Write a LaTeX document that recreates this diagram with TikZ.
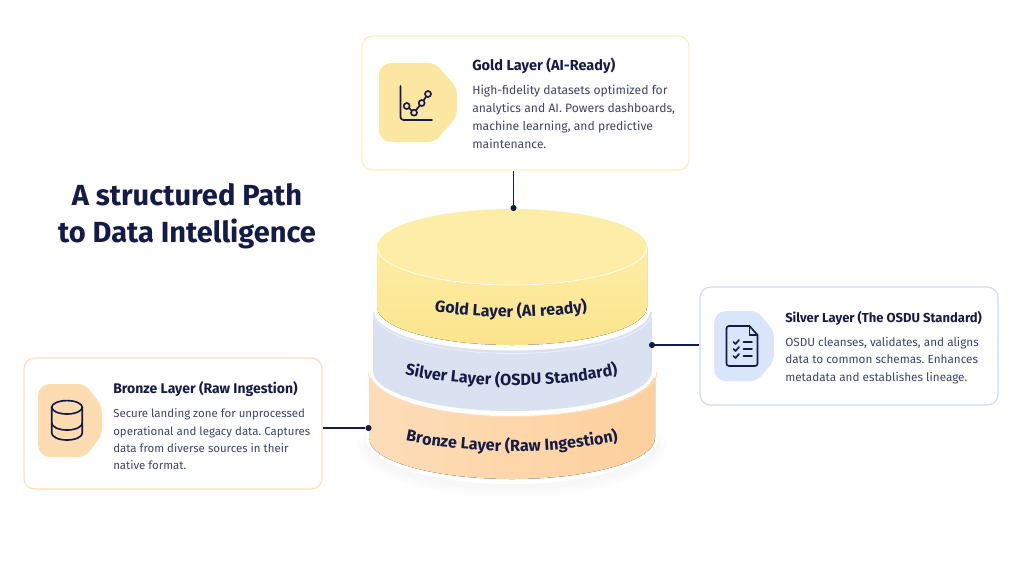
\documentclass[tikz,border=0pt]{standalone}
\usepackage{fontspec}
\setmainfont{Fira Sans}
\frenchspacing
\usetikzlibrary{decorations.text}
\definecolor{ink}{HTML}{141B47}
\definecolor{bodyink}{HTML}{3F4468}
\definecolor{goldtop}{HTML}{FDEDA6}
\definecolor{goldside}{HTML}{FBE48C}
\definecolor{goldedge}{HTML}{FCF0BC}
\definecolor{goldicon}{HTML}{FBE6A2}
\definecolor{silverside}{HTML}{DAE2F1}
\definecolor{silverlight}{HTML}{E9EEF7}
\definecolor{silveredge}{HTML}{CDDBF6}
\definecolor{silvericon}{HTML}{D9E5FB}
\definecolor{bronzeside}{HTML}{FDD09C}
\definecolor{bronzelight}{HTML}{FDDDB9}
\definecolor{bronzeedge}{HTML}{FCE0BC}
\definecolor{bronzeicon}{HTML}{FDDCB2}
\newcommand{\drumfont}{\fontsize{12.1}{14}\selectfont\bfseries\color{ink}}
\tikzset{
  card/.style={draw=#1, line width=0.9pt, fill=white, rounded corners=8pt, inner sep=0pt},
  cardtitle/.style={anchor=west, inner sep=0pt, text=ink, font=\fontsize{#1}{12}\selectfont\bfseries},
  cardbody/.style={anchor=north west, inner sep=0pt, align=left, text=bodyink},
  headline/.style={anchor=center, inner sep=0pt, text=ink, font=\fontsize{21.8}{27.75}\selectfont\bfseries, align=center},
  link/.style={draw=ink, line width=1.4pt},
  linkdot/.style={circle, fill=ink, inner sep=0pt, minimum size=4.6pt},
  glyph/.style={draw=ink, line width=1.25pt, line cap=round, line join=round},
  curved label/.style={decorate, decoration={text along path, text align=center, text={#1}}}
}
\begin{document}
\begin{tikzpicture}[x=0.75pt,y=-0.75pt]
\useasboundingbox (0,0) rectangle (1024,576);
\fill[white] (0,0) rectangle (1024,576);

% Soft shadow under the stack
\foreach \g in {12,9,6,3}{
  \fill[black,opacity=0.009] (512,446) ellipse[x radius=143+\g,y radius=40+\g];
}

% Bronze drum with its white rim
\fill[white] (366,372) -- (366,438) arc[start angle=180,end angle=0,x radius=146,y radius=46] -- (658,372) -- cycle;
\fill[left color=bronzelight,right color=bronzeside] (369,378) -- (369,438) arc[start angle=180,end angle=0,x radius=143,y radius=41] -- (655,378) -- cycle;

% Silver drum with its white rim
\fill[white] (370,306) -- (370,371) arc[start angle=180,end angle=0,x radius=142.5,y radius=45.5] -- (655,306) -- cycle;
\draw[bronzelight,line width=0.7pt] (368,372) arc[start angle=180,end angle=0,x radius=144.5,y radius=44.5];
\fill[white] (371,312) -- (371,371) arc[start angle=180,end angle=0,x radius=141.5,y radius=43.5] -- (654,312) -- cycle;
\fill[silverside] (373,312) -- (373,371) arc[start angle=180,end angle=0,x radius=139.5,y radius=40] -- (652,312) -- cycle;

% Gold drum with its white rim
\fill[white] (374,300) -- (374,311) arc[start angle=180,end angle=0,x radius=138,y radius=39.5] -- (650,300) -- cycle;
\draw[silverlight,line width=0.7pt] (373,312) arc[start angle=180,end angle=0,x radius=139.5,y radius=41.5];
\fill[top color=goldtop,bottom color=goldside] (377,247) -- (377,307) arc[start angle=180,end angle=0,x radius=135,y radius=38] -- (647,247) -- cycle;
\fill[goldtop] (512,247) ellipse[x radius=135,y radius=38];
\draw[white,line width=0.5pt] (377,247) arc[start angle=180,end angle=0,x radius=135,y radius=38];

% Lettering that follows the curve of each drum
\path[curved label={|\drumfont|Gold Layer (AI ready)}]
  (432,311) .. controls (480,319) and (540,319) .. (590,311);
\path[curved label={|\drumfont|Silver Layer (OSDU Standard)}]
  (403,374) .. controls (470,389) and (555,389) .. (620,374);
\path[curved label={|\drumfont|Bronze Layer (Raw Ingestion)}]
  (401,440) .. controls (470,455) and (555,455) .. (623,440);

% Headline
\node[headline] (heading) at (187,216) {A structured Path\\to Data Intelligence};

% Cards
\node[card=goldedge, minimum width=245.25pt, minimum height=100.5pt] (goldcard) at (525.5,103) {};
\node[card=silveredge, minimum width=223.5pt, minimum height=88.5pt] (silvercard) at (849,346) {};
\node[card=bronzeedge, minimum width=223.5pt, minimum height=98.25pt] (bronzecard) at (173,423.5) {};

% Connectors
\node[linkdot] (golddot) at (513.5,208) {};
\node[linkdot] (silverdot) at (652,345) {};
\node[linkdot] (bronzedot) at (368.5,428) {};
\draw[link] (goldcard.south -| golddot) -- (golddot);
\draw[link] (silvercard.west |- silverdot) -- (silverdot);
\draw[link] (bronzecard.east |- bronzedot) -- (bronzedot);

% Icon tiles
\fill[goldicon, rounded corners=9pt] (379,103) -- (379,63) [rounded corners=5pt] -- (435,63) -- (457,88) -- (457,116) -- (435,142) [rounded corners=9pt] -- (379,142) -- cycle;
\fill[silvericon, rounded corners=9pt] (714,346) -- (714,311) [rounded corners=5pt] -- (757,311) -- (774,331) -- (774,361) -- (757,381) [rounded corners=9pt] -- (714,381) -- cycle;
\fill[bronzeicon, rounded corners=9pt] (38,420) -- (38,384) [rounded corners=5pt] -- (85,384) -- (102,406) -- (102,435) -- (85,457) [rounded corners=9pt] -- (38,457) -- cycle;

% Chart glyph
\draw[glyph] (400.5,86) -- (400.5,117) arc[start angle=180,end angle=90,radius=3] -- (432,120);
\draw[glyph] (406.7,106) -- (414,112.7) -- (421.7,103) -- (428,94);
\foreach \p in {(406.7,106),(414,112.7),(421.7,103),(428,94)}{
  \filldraw[glyph,fill=goldicon] \p circle[radius=3];
}

% Checklist glyph
\draw[glyph] (749.5,326) -- (729,326) arc[start angle=270,end angle=180,radius=2.5] -- (726.5,363.5) arc[start angle=180,end angle=90,radius=2.5] -- (755,366) arc[start angle=90,end angle=0,radius=2.5] -- (757.5,335) -- cycle;
\draw[glyph] (749.5,326) -- (749.5,335) -- (757.5,335);
\foreach \y in {342,349,356}{
  \draw[glyph] (733.5,\y) -- (735.5,\y+2) -- (739,\y-2);
  \draw[glyph] (743.5,\y) -- (752,\y);
}

% Database glyph
\draw[glyph] (67,407.3) ellipse[x radius=15.3,y radius=6.7];
\draw[glyph] (51.7,407.3) -- (51.7,433) arc[start angle=180,end angle=0,x radius=15.3,y radius=7] -- (82.3,407.3);
\draw[glyph] (51.7,423) arc[start angle=180,end angle=0,x radius=15.3,y radius=7];

% Card texts
\node[cardtitle=10.9] (goldtitle) at (472,65.5) {Gold Layer (AI-Ready)};
\node[cardbody, font=\fontsize{9.1}{13.5}\selectfont] (goldtext) at (472,84.5) {High-fidelity datasets optimized for\\analytics and AI. Powers dashboards,\\machine learning, and predictive\\maintenance.};
\node[cardtitle=9.75] (silvertitle) at (785,318) {Silver Layer (The OSDU Standard)};
\node[cardbody, font=\fontsize{8.8}{13}\selectfont] (silvertext) at (785,337) {OSDU cleanses, validates, and aligns\\data to common schemas. Enhances\\metadata and establishes lineage.};
\node[cardtitle=10.5] (bronzetitle) at (113,389) {Bronze Layer (Raw Ingestion)};
\node[cardbody, font=\fontsize{8.6}{13}\selectfont] (bronzetext) at (113,408.5) {Secure landing zone for unprocessed\\operational and legacy data. Captures\\data from diverse sources in their\\native format.};
\end{tikzpicture}
\end{document}
